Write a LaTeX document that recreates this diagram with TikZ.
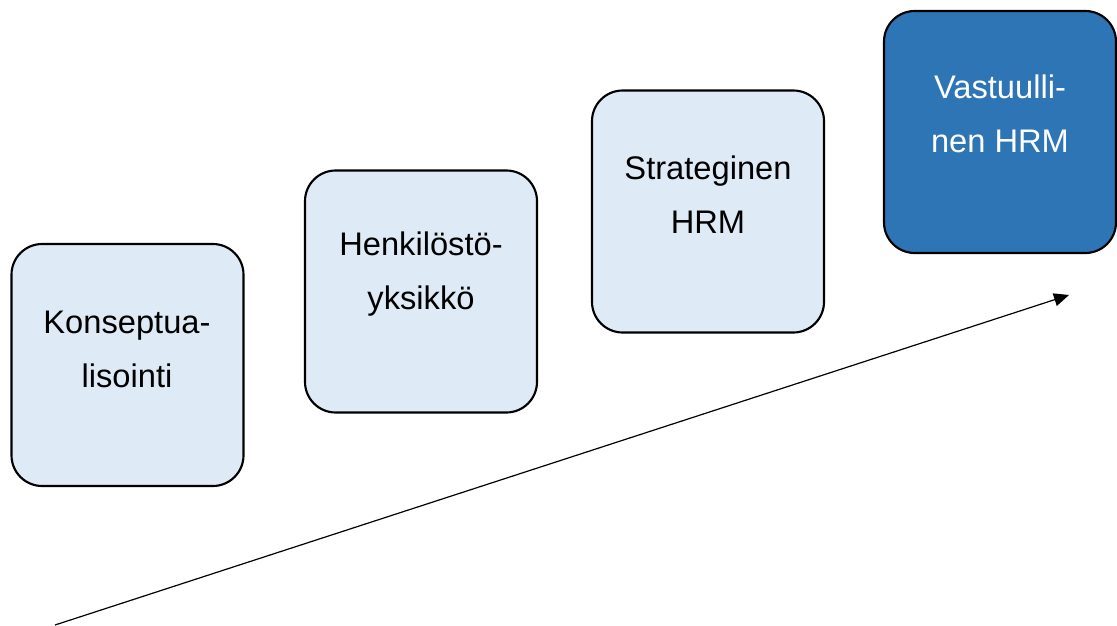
\documentclass[tikz,border=0pt]{standalone}
\usepackage{fontspec}
\setmainfont{Liberation Sans}
\usetikzlibrary{arrows.meta}
\definecolor{stagelight}{HTML}{DEEBF7}
\definecolor{stagedark}{HTML}{2E75B6}
\tikzset{
  stagebox/.style={draw=black, line width=1.6pt, rounded corners=23pt,
    minimum width=232*0.75pt, minimum height=242*0.75pt, inner sep=0pt,
    fill=stagelight},
  stagetext/.style={align=center, font=\fontsize{24.5pt}{40.5pt}\selectfont, inner sep=0pt},
}
\begin{document}
\begin{tikzpicture}[x=0.75pt, y=-0.75pt]
  \useasboundingbox (0,0) rectangle (1117,625);
  % four stages, rising to the right
  \node[stagebox] (s1) at (127.5,365) {};
  \node[stagebox] (s2) at (421,291.5) {};
  \node[stagebox] (s3) at (708,211.5) {};
  \node[stagebox, fill=stagedark] (s4) at (1000,132) {};
  \node[stagetext] (t1) at (127,349) {Konseptua-\\lisointi};
  \node[stagetext] (t2) at (421,274) {Henkilöstö-\\yksikkö};
  \node[stagetext] (t3) at (708,195) {Strateginen\\HRM};
  \node[stagetext, text=white] (t4) at (1000,114) {Vastuulli-\\nen HRM};
  % development arrow
  \coordinate (a0) at (55,625);
  \coordinate (a1) at (1069,295);
  \draw[line width=0.9pt, -{Triangle[length=15pt*0.75, width=13pt*0.75]}] (a0) -- (a1);
\end{tikzpicture}
\end{document}
